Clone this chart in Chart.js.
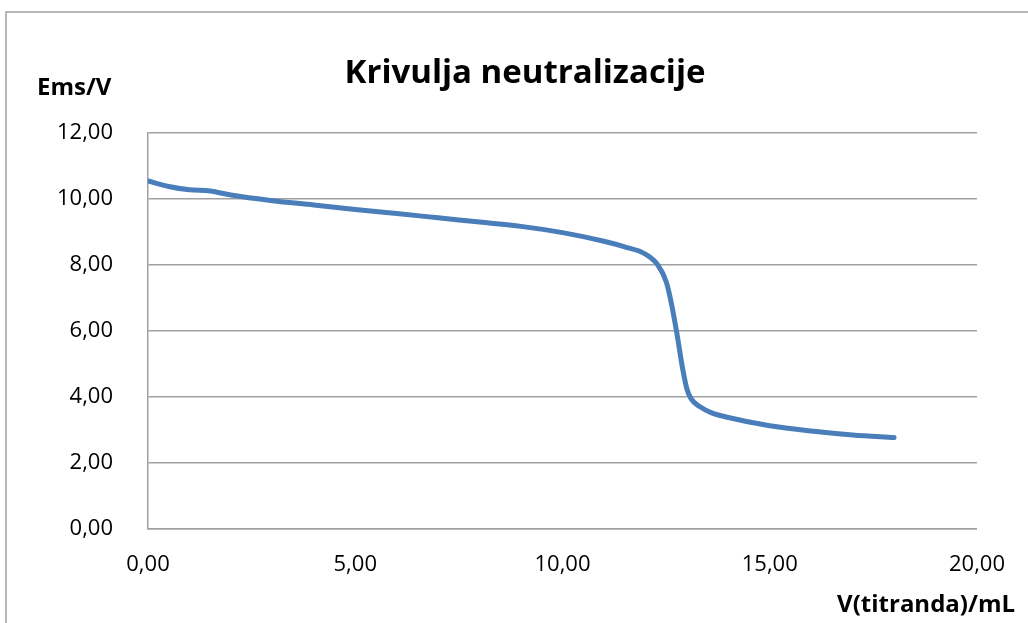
<!DOCTYPE html>
<html>
<head>
<meta charset="utf-8">
<script src="https://cdn.jsdelivr.net/npm/chart.js@4"></script>
<style>
  html, body { margin: 0; padding: 0; background: #fff; }
  #wrap { width: 1028px; height: 623px; position: relative; }
</style>
</head>
<body>
<div id="wrap"><canvas id="chart" width="1028" height="623"></canvas></div>
<script>
// volume of titrant (mL) and measured EMF (V)
const volumes = [0, 0.5, 1, 1.5, 2, 3, 4, 5, 6, 7, 8, 9, 10, 11, 11.5, 12, 12.3, 12.5, 12.6, 12.75, 12.9, 13, 13.1, 13.3, 13.6, 14, 15, 16, 17, 18]
const emf = [10.55, 10.38, 10.28, 10.24, 10.12, 9.95, 9.82, 9.68, 9.56, 9.43, 9.3, 9.17, 8.98, 8.72, 8.55, 8.33, 8.0, 7.5, 7.0, 6.0, 4.85, 4.25, 3.95, 3.72, 3.52, 3.38, 3.13, 2.97, 2.85, 2.77]

const chartTitle = 'Krivulja neutralizacije'
const yTitle = 'Ems/V'
const xTitle = 'V(titranda)/mL'

const fmt = (v) => v.toFixed(2).replace('.', ',')
const font = '"Open Sans", "Liberation Sans", sans-serif'

// frame + titles drawn by hand, like the Excel export
const decorations = {
  id: 'decorations',
  beforeDraw(chart) {
    const ctx = chart.ctx
    ctx.save()
    ctx.strokeStyle = '#a0a0a0'
    ctx.lineWidth = 1.5
    ctx.beginPath()
    ctx.moveTo(6, 640)
    ctx.lineTo(6, 12)
    ctx.lineTo(1040, 12)
    ctx.stroke()
    ctx.restore()
  },
  afterDraw(chart) {
    const ctx = chart.ctx
    ctx.save()
    ctx.fillStyle = '#000'
    ctx.textBaseline = 'middle'
    ctx.textAlign = 'center'
    ctx.font = 'bold 33px ' + font
    ctx.fillText(chartTitle, 525, 74)
    ctx.textAlign = 'left'
    ctx.font = 'bold 24px ' + font
    ctx.fillText(yTitle, 37, 88)
    ctx.textAlign = 'right'
    ctx.fillText(xTitle, 1015, 605)
    ctx.restore()
  },
}

new Chart(document.getElementById('chart').getContext('2d'), {
  type: 'line',
  data: {
    datasets: [
      {
        data: volumes.map((v, i) => ({ x: v, y: emf[i] })),
        borderColor: '#4a7ebb',
        borderWidth: 5,
        borderCapStyle: 'round',
        borderJoinStyle: 'round',
        pointRadius: 0,
        fill: false,
        cubicInterpolationMode: 'monotone',
      },
    ],
  },
  options: {
    responsive: false,
    animation: false,
    layout: {
      padding: { left: 0, top: 133, right: 51, bottom: 0 },
    },
    scales: {
      x: {
        type: 'linear',
        min: 0,
        max: 20,
        afterFit: (scale) => { scale.height = 94 },
        border: { color: '#a0a0a0', width: 1.5 },
        grid: { display: false, drawTicks: false },
        ticks: {
          stepSize: 5,
          padding: 23,
          color: '#000',
          font: { family: font, size: 22 },
          callback: (v) => fmt(v),
        },
      },
      y: {
        min: 0,
        max: 12,
        afterFit: (scale) => { scale.width = 148 },
        border: { color: '#a0a0a0', width: 1.5 },
        grid: { color: '#a0a0a0', lineWidth: 1.5, drawTicks: false },
        ticks: {
          stepSize: 2,
          padding: 35,
          color: '#000',
          font: { family: font, size: 22 },
          callback: (v) => fmt(v),
        },
      },
    },
    plugins: {
      legend: { display: false },
      title: { display: false },
      tooltip: { enabled: false },
    },
  },
  plugins: [decorations],
})
</script>
</body>
</html>
